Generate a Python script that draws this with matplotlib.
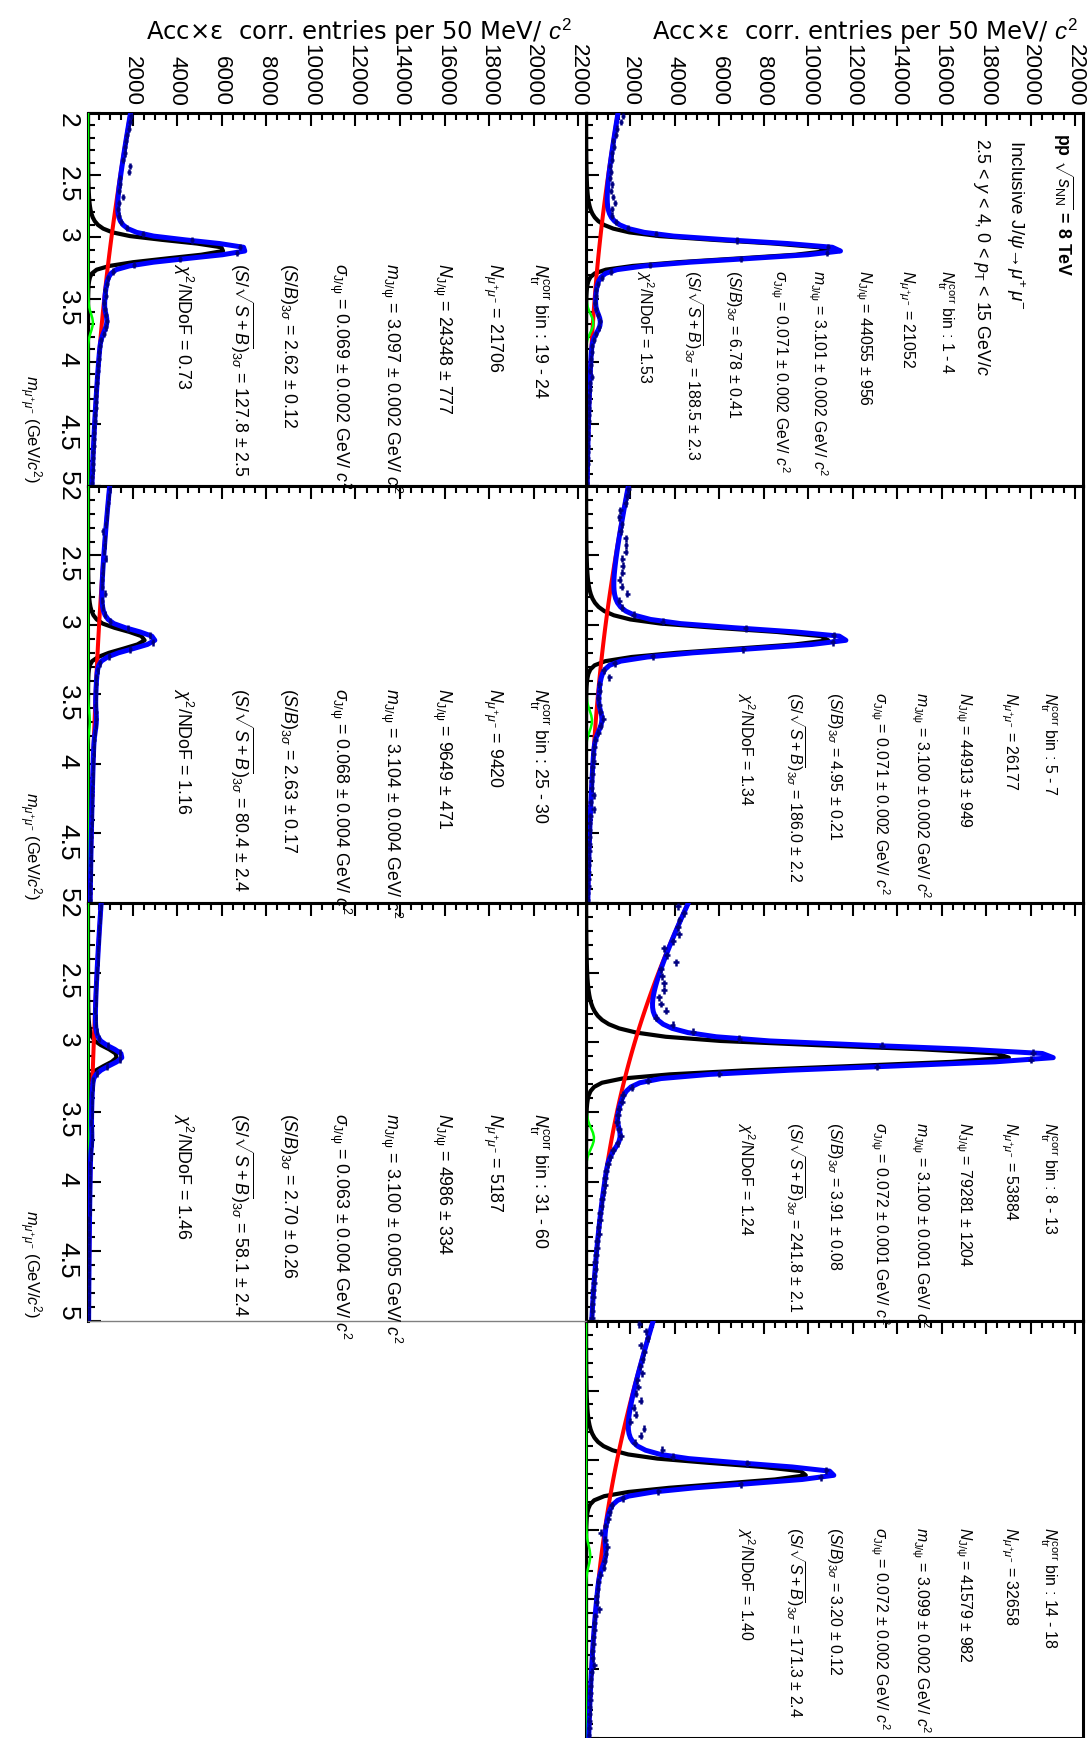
import numpy as np
import matplotlib
matplotlib.use("Agg")
import matplotlib.pyplot as plt
from matplotlib import font_manager
from matplotlib.ticker import MultipleLocator

# ROOT text looks condensed, use the narrow Liberation face when it is there
names = {f.name for f in font_manager.fontManager.ttflist}
NARROW = 'Liberation Sans Narrow' in names
tfont = 'Liberation Sans Narrow' if NARROW else 'Liberation Sans'
k = 1.0 if NARROW else 0.85

plt.rcParams['font.family'] = [tfont, 'DejaVu Sans']
plt.rcParams['mathtext.fontset'] = 'custom'
plt.rcParams['mathtext.rm'] = tfont
plt.rcParams['mathtext.it'] = tfont + ':italic'
plt.rcParams['mathtext.bf'] = tfont + ':bold'
plt.rcParams['mathtext.sf'] = tfont

# fit results per multiplicity bin
ntr_bins = ["1 - 4", "5 - 7", "8 - 13", "14 - 18", "19 - 24", "25 - 30", "31 - 60"]
n_mumu = [21052, 26177, 53884, 32658, 21706, 9420, 5187]
n_jpsi = [44055, 44913, 79281, 41579, 24348, 9649, 4986]
n_jpsi_err = [956, 949, 1204, 982, 777, 471, 334]
m_jpsi = [3.101, 3.100, 3.100, 3.099, 3.097, 3.104, 3.100]
m_jpsi_err = [0.002, 0.002, 0.001, 0.002, 0.002, 0.004, 0.005]
s_jpsi = [0.071, 0.071, 0.072, 0.072, 0.069, 0.068, 0.063]
s_jpsi_err = [0.002, 0.002, 0.001, 0.002, 0.002, 0.004, 0.004]
s_over_b = [6.78, 4.95, 3.91, 3.20, 2.62, 2.63, 2.70]
s_over_b_err = [0.41, 0.21, 0.08, 0.12, 0.12, 0.17, 0.26]
signif = [188.5, 186.0, 241.8, 171.3, 127.8, 80.4, 58.1]
signif_err = [2.3, 2.2, 2.1, 2.4, 2.5, 2.4, 2.4]
chi2_ndf = [1.53, 1.34, 1.24, 1.40, 0.73, 1.16, 1.46]

# fitted curve parameters
jpsi_peak = [10950, 11000, 19200, 10000, 6170, 2550, 1300]
psi2s_peak = [330, 270, 360, 190, 220, 80, 40]
bkg_norm = [1437, 1902, 4595, 3017, 1908, 972, 590]
bkg_slope = [-0.65, -0.63, -0.63, -0.62, -0.494, -0.62, -0.72]
bkg_curv = [-0.15, -0.14, -0.11, -0.15, -0.10, -0.05, -0.10]

# corrected entries per 50 MeV/c2 bin (2.0 - 5.0 GeV/c2)
counts_1 = [1650, 1560, 1380, 1340, 1230, 1260, 1150, 1180, 1060, 1110,
            1090, 1150, 1140, 1210, 1290, 1180, 1180, 1350, 1900, 3150,
            6780, 10900, 10850, 6950, 2880, 1120, 700, 560, 470, 430,
            420, 470, 560, 640, 580, 450, 340, 270, 250, 220,
            215, 190, 290, 170, 165, 150, 145, 130, 125, 115,
            110, 98, 95, 85, 82, 75, 72, 62, 60, 55]
counts_2 = [1900, 1850, 1780, 1550, 1500, 1620, 1560, 1790, 1800, 1790,
            1640, 1650, 1640, 1520, 1600, 1860, 1490, 1620, 2150, 3450,
            7180, 11150, 11100, 7080, 3000, 1300, 800, 1040, 600, 620,
            560, 600, 650, 780, 660, 550, 420, 380, 330, 330,
            290, 290, 260, 255, 350, 215, 340, 195, 175, 170,
            165, 150, 145, 130, 125, 110, 105, 100, 92, 85]
counts_3 = [4150, 4400, 4200, 4150, 4190, 3900, 3520, 3650, 4040, 3370,
            3420, 3520, 3520, 3300, 3370, 3590, 3140, 3890, 4800, 6900,
            13300, 20100, 20000, 13100, 6000, 2800, 2050, 1650, 1620, 1480,
            1450, 1400, 1500, 1560, 1420, 1220, 1100, 1000, 900, 860,
            840, 790, 720, 700, 640, 630, 560, 570, 510, 500,
            450, 420, 430, 380, 370, 330, 330, 290, 290, 260]
counts_4 = [2390, 2690, 2780, 2470, 2620, 2560, 2450, 2540, 2300, 2350,
            2250, 2460, 2150, 2240, 2000, 2610, 2460, 2200, 3440, 3900,
            7250, 10800, 10550, 6950, 3250, 1650, 1150, 1060, 1000, 870,
            660, 860, 960, 900, 850, 810, 640, 560, 540, 490,
            480, 590, 420, 380, 370, 330, 330, 290, 300, 380,
            250, 225, 215, 195, 185, 165, 160, 150, 140, 135]
counts_5 = [1950, 1900, 1830, 1760, 1720, 1640, 1660, 1560, 1870, 1840,
            1450, 1420, 1400, 1560, 1380, 1350, 1390, 1480, 1760, 2480,
            4650, 6820, 6700, 4150, 2050, 1100, 880, 860, 760, 790,
            740, 770, 800, 860, 790, 700, 580, 550, 505, 495,
            460, 450, 420, 415, 380, 375, 350, 345, 315, 310,
            285, 280, 260, 255, 230, 225, 210, 205, 190, 180]
counts_6 = [980, 940, 905, 860, 850, 800, 660, 770, 750, 720,
            790, 680, 660, 650, 640, 780, 640, 670, 760, 1000,
            1800, 2780, 2900, 1900, 960, 520, 440, 380, 380, 350,
            355, 340, 370, 370, 365, 310, 290, 250, 250, 230,
            230, 210, 215, 195, 195, 180, 180, 165, 165, 150,
            150, 140, 138, 126, 126, 115, 115, 105, 105, 98]
counts_7 = [590, 555, 545, 515, 505, 475, 470, 440, 430, 405,
            400, 375, 370, 350, 345, 330, 338, 340, 385, 490,
            900, 1440, 1440, 855, 400, 235, 208, 182, 180, 163,
            165, 155, 170, 170, 165, 132, 122, 105, 104, 95,
            93, 84, 83, 75, 74, 66, 66, 59, 58, 53,
            52, 47, 46, 41, 40, 36, 36, 32, 31, 29]
counts_err = [90, 110, 130, 110, 90, 60, 45]
counts = [counts_1, counts_2, counts_3, counts_4, counts_5, counts_6, counts_7]


def cb2(m, mean, sigma, aL=1.4, nL=4.0, aR=2.2, nR=4.0):
    t = (m - mean) / sigma
    out = np.exp(-0.5 * t**2)
    AL = (nL / aL)**nL * np.exp(-0.5 * aL**2)
    BL = nL / aL - aL
    AR = (nR / aR)**nR * np.exp(-0.5 * aR**2)
    BR = nR / aR - aR
    lo = t < -aL
    hi = t > aR
    out[lo] = AL * (BL - t[lo])**(-nL)
    out[hi] = AR * (BR + t[hi])**(-nR)
    return out


def curves(i, m):
    sig = jpsi_peak[i] * cb2(m, m_jpsi[i], s_jpsi[i])
    sig2 = psi2s_peak[i] * cb2(m, m_jpsi[i] + 0.589, s_jpsi[i] * 1.05)
    bkg = bkg_norm[i] * np.exp(bkg_slope[i] * (m - 2) + bkg_curv[i] * (m - 2)**2)
    return sig, sig2, bkg


W, H = 1092, 1738
fig = plt.figure(figsize=(W / 100, H / 100), dpi=100)

cols = [(586, 1083), (88, 586)]
rows = [(113, 486), (486, 903), (903, 1321), (1321, 1738)]
layout = [(0, 0), (0, 1), (0, 2), (0, 3), (1, 0), (1, 1), (1, 2)]

# text column centres (px) and start y of the fit summary
txt_cols = [[947, 908, 865, 818, 780, 735, 693, 645],
            [1050, 1011, 965, 921, 880, 836, 795, 746],
            [1050, 1011, 965, 921, 880, 836, 795, 746],
            [1050, 1011, 965, 921, 880, 836, 795, 746],
            [540, 495, 444, 392, 341, 290, 240, 183],
            [540, 495, 444, 392, 341, 290, 240, 183],
            [540, 495, 444, 392, 341, 290, 240, 183]]
txt_top = [270, 692, 1122, 1527, 263, 688, 1113]

m = np.linspace(2, 5, 101)
centers = np.arange(2.025, 5.0, 0.05)


def vtext(xc, ytop, s, fs, **kw):
    fs = fs * k
    cap = 0.716 * fs * 100 / 72
    fig.text((xc - cap / 2) / W, 1 - ytop / H, s, rotation=-90, rotation_mode='anchor',
             ha='left', va='baseline', fontsize=fs, **kw)


for i, (c, r) in enumerate(layout):
    x0, x1 = cols[c]
    y0, y1 = rows[r]
    ax = fig.add_axes([x0 / W, 1 - y1 / H, (x1 - x0) / W, (y1 - y0) / H])
    sig, sig2, bkg = curves(i, m)
    ax.plot(sig, m, color='black', lw=3.0, zorder=2)
    ax.plot(bkg, m, color='red', lw=2.9, zorder=3)
    ax.plot(sig2, m, color='#00ff00', lw=1.8, zorder=3)
    ax.plot(sig + sig2 + bkg, m, color='blue', lw=3.6, zorder=5)
    ax.errorbar(counts[i], centers, xerr=counts_err[i], yerr=0.025, fmt='none',
                ecolor='#000080', elinewidth=1.8, capsize=0, zorder=6)
    ax.set_xlim(0, 22350)
    ax.set_ylim(5, 2)
    ax.xaxis.set_ticks_position('top')
    ax.set_xticks(np.arange(2000, 22001, 2000))
    ax.xaxis.set_minor_locator(MultipleLocator(500))
    ax.tick_params(axis='x', which='both', direction='in', top=True, bottom=False,
                   labeltop=(r == 0), labelbottom=False, labelsize=19 * k,
                   labelrotation=-90, pad=5)
    ax.tick_params(axis='x', which='major', length=9.5, width=1.5)
    ax.tick_params(axis='x', which='minor', length=4.7, width=1.5)
    ax.set_yticks([2, 2.5, 3, 3.5, 4, 4.5, 5], ["2", "2.5", "3", "3.5", "4", "4.5", "5"])
    ax.yaxis.set_minor_locator(MultipleLocator(0.1))
    ax.tick_params(axis='y', which='both', direction='in', left=True, right=False,
                   labelleft=(c == 1), labelsize=19, labelrotation=-90, pad=6)
    ax.tick_params(axis='y', which='major', length=9.5, width=1.5)
    ax.tick_params(axis='y', which='minor', length=4.7, width=1.5)
    for lab in ax.get_yticklabels():
        if lab.get_text() == "2":
            lab.set_va('top')
        elif lab.get_text() == "5":
            lab.set_va('bottom')
    for sp in ax.spines.values():
        sp.set_linewidth(2.2)
    if i == 6:
        ax.spines['bottom'].set_linewidth(1)
        ax.spines['bottom'].set_color('gray')

    # fit summary
    fs = 13.5 if c == 0 else 15
    lines = [r"$N_{\rm tr}^{\rm corr}$ bin : " + ntr_bins[i],
             r"$N_{\mu^{+}\mu^{-}}$ = %d" % n_mumu[i],
             r"$N_{\rm J/\psi}$ = %d ± %d" % (n_jpsi[i], n_jpsi_err[i]),
             r"$m_{\rm J/\psi}$ = %.3f ± %.3f GeV/ $c^{2}$" % (m_jpsi[i], m_jpsi_err[i]),
             r"$\sigma_{\rm J/\psi}$ = %.3f ± %.3f GeV/ $c^{2}$" % (s_jpsi[i], s_jpsi_err[i]),
             r"$(S/B)_{3\sigma}$ = %.2f ± %.2f" % (s_over_b[i], s_over_b_err[i]),
             r"$(S/\sqrt{S+B})_{3\sigma}$ = %.1f ± %.1f" % (signif[i], signif_err[i]),
             r"$\chi^{2}$/NDoF = %.2f" % chi2_ndf[i]]
    for xc, s in zip(txt_cols[i], lines):
        vtext(xc, txt_top[i], s, fs)

    if c == 1:
        fig.text(30 / W, 1 - (y1 - 3) / H, r"$m_{\mu^{+}\mu^{-}}$ (GeV/$c^{2}$)",
                 rotation=-90, ha='center', va='bottom', fontsize=14 * k)

# header of the first panel
vtext(1063, 133, r"pp $\sqrt{s_{\rm NN}}$ = 8 TeV", 15, fontweight='bold')
vtext(1017, 140, r"Inclusive J/$\psi\!\rightarrow\!\mu^{+}\,\mu^{-}$", 16)
vtext(983, 138, r"2.5 < $y$ < 4, 0 < $p_{\rm T}$ < 15 GeV/$c$", 15)

for xr in (1078, 572):
    fig.text(xr / W, 1 - 40 / H, r"Acc×ε  corr. entries per 50 MeV/ $c^{2}$",
             ha='right', va='baseline', fontsize=17.5, family='DejaVu Sans')

fig.savefig("out.png", dpi=100)
